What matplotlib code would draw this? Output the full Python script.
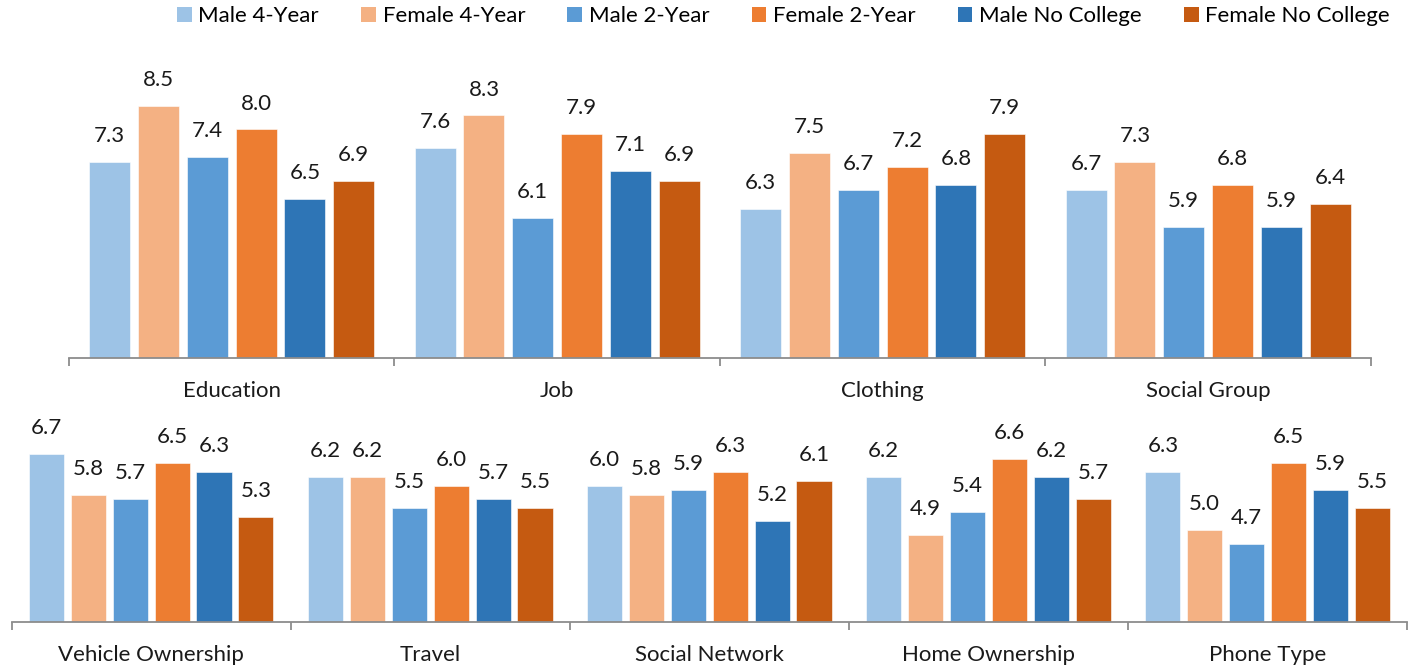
import matplotlib
matplotlib.use("Agg")
import matplotlib.pyplot as plt
from matplotlib.patches import Patch

series_names = ["Male 4-Year", "Female 4-Year", "Male 2-Year",
                "Female 2-Year", "Male No College", "Female No College"]
colors = ["#9DC3E6", "#F4B183", "#5B9BD5", "#ED7D31", "#2E75B6", "#C55A11"]

top_categories = ["Education", "Job", "Clothing", "Social Group"]
top_values = [
    [7.3, 8.5, 7.4, 8.0, 6.5, 6.9],
    [7.6, 8.3, 6.1, 7.9, 7.1, 6.9],
    [6.3, 7.5, 6.7, 7.2, 6.8, 7.9],
    [6.7, 7.3, 5.9, 6.8, 5.9, 6.4],
]

bottom_categories = ["Vehicle Ownership", "Travel", "Social Network",
                     "Home Ownership", "Phone Type"]
bottom_values = [
    [6.7, 5.8, 5.7, 6.5, 6.3, 5.3],
    [6.2, 6.2, 5.5, 6.0, 5.7, 5.5],
    [6.0, 5.8, 5.9, 6.3, 5.2, 6.1],
    [6.2, 4.9, 5.4, 6.6, 6.2, 5.7],
    [6.3, 5.0, 4.7, 6.5, 5.9, 5.5],
]

FONT = 16
AXIS_GRAY = "#8C8C8C"


def draw_row(ax, categories, values, ylim):
    n = len(categories)
    pitch = 0.15
    width = 0.126
    for i, row in enumerate(values):
        for j, v in enumerate(row):
            x = i + (j - 2.5) * pitch
            ax.bar(x, v, width=width, color=colors[j],
                   edgecolor="white", linewidth=0.4, zorder=2)
            ax.annotate(f"{v:.1f}", (x, v), xytext=(0, 11.5),
                        textcoords="offset points", ha="center",
                        va="bottom", fontsize=FONT, color="#1a1a1a")

    ax.set_xlim(-0.5, n - 0.5)
    ax.set_ylim(*ylim)
    for side in ["top", "right", "left"]:
        ax.spines[side].set_visible(False)
    ax.spines["bottom"].set_color(AXIS_GRAY)
    ax.spines["bottom"].set_linewidth(1.3)
    ax.set_yticks([])

    ax.set_xticks(range(n))
    ax.set_xticklabels(categories, fontsize=FONT, color="#1a1a1a")
    ax.tick_params(axis="x", which="major", length=0, pad=16.5)
    ax.set_xticks([i - 0.5 for i in range(n + 1)], minor=True)
    ax.tick_params(axis="x", which="minor", length=6, width=1.3,
                   color=AXIS_GRAY, direction="out")


def main():
    plt.rcParams["font.family"] = ["Lato", "DejaVu Sans"]
    fig = plt.figure(figsize=(14.1, 6.66), dpi=100)

    ax_top = fig.add_axes([0.0489, 0.4625, 0.9234, 0.4474])
    draw_row(ax_top, top_categories, top_values, (3.1, 9.49))

    ax_bot = fig.add_axes([0.0083, 0.0665, 0.9896, 0.2878])
    draw_row(ax_bot, bottom_categories, bottom_values, (2.96, 7.24))

    handles = [Patch(facecolor=c, label=s) for c, s in zip(colors, series_names)]
    fig.legend(handles=handles, loc="center left",
               bbox_to_anchor=(177 / 1410, 1 - 16 / 666),
               ncol=6, frameon=False, fontsize=FONT,
               handlelength=0.66, handleheight=0.66, handletextpad=0.3,
               columnspacing=1.9, borderpad=0, borderaxespad=0)

    fig.savefig("out.png", dpi=100)


if __name__ == "__main__":
    main()
